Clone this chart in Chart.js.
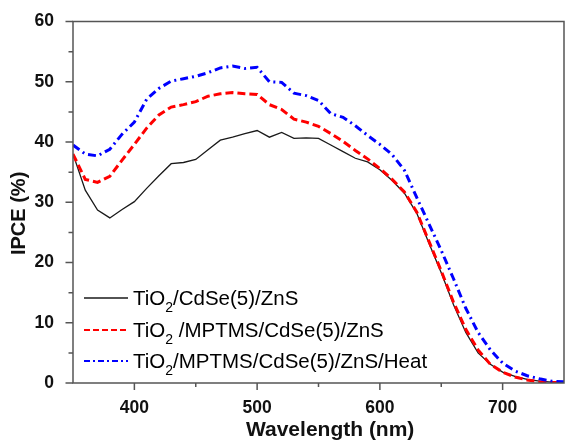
<!DOCTYPE html>
<html>
<head>
<meta charset="utf-8">
<script src="https://cdn.jsdelivr.net/npm/chart.js@4.4.1/dist/chart.umd.min.js"></script>
<style>
  body { margin: 0; background: #fff; }
  canvas { display: block; }
</style>
</head>
<body>
<canvas id="ipceChart" width="565" height="443"></canvas>
<script>
// wavelength grid (nm)
const wavelengths = [350, 360, 370, 380, 390, 400, 410, 420, 430, 440,
                     450, 460, 470, 480, 490, 500, 510, 520, 530, 540,
                     550, 560, 570, 580, 590, 600, 610, 620, 630, 640,
                     650, 660, 670, 680, 690, 700, 710, 720, 730, 740, 750];

// IPCE (%)
const ipceBare = [38.0, 32.0, 28.7, 27.4, 28.8, 30.1, 32.3, 34.4, 36.4, 36.6,
                  37.1, 38.7, 40.3, 40.8, 41.4, 41.9, 40.8, 41.6, 40.6, 40.7,
                  40.6, 39.5, 38.4, 37.3, 36.7, 35.4, 33.6, 31.5, 28.2, 23.2,
                  18.3, 13.0, 8.4, 5.0, 3.1, 1.8, 1.1, 0.6, 0.3, 0.15, 0.1];
const ipceMptms = [38.0, 33.8, 33.3, 34.3, 37.0, 39.6, 42.3, 44.5, 45.8, 46.2,
                   46.7, 47.6, 48.0, 48.2, 48.0, 47.9, 46.2, 45.4, 43.8, 43.3,
                   42.6, 41.4, 40.1, 38.6, 37.2, 35.6, 33.8, 31.7, 28.4, 23.5,
                   18.6, 13.4, 8.9, 5.5, 3.1, 1.8, 1.0, 0.5, 0.2, 0.1, 0.1];
const ipceHeat = [39.5, 38.0, 37.7, 38.8, 41.3, 43.3, 47.1, 48.9, 50.1, 50.5,
                  50.9, 51.5, 52.3, 52.6, 52.2, 52.4, 50.0, 49.9, 48.1, 47.7,
                  46.9, 44.7, 44.1, 42.7, 41.1, 39.6, 37.9, 35.3, 30.8, 26.4,
                  22.0, 17.3, 12.4, 8.4, 5.5, 3.3, 2.0, 1.2, 0.7, 0.3, 0.2];

const seriesLabels = ['TiO2/CdSe(5)/ZnS', 'TiO2 /MPTMS/CdSe(5)/ZnS', 'TiO2/MPTMS/CdSe(5)/ZnS/Heat'];

const xMajorTicks = [400, 500, 600, 700];
const xMinorTicks = [450, 550, 650];
const yMajorTicks = [0, 10, 20, 30, 40, 50, 60];
const yMinorTicks = [5, 15, 25, 35, 45, 55];

const FONT = "'Liberation Sans', Arial, sans-serif";
Chart.defaults.font.family = FONT;
Chart.defaults.color = '#111';

const styles = [
  { color: '#1a1a1a', width: 1.3, dash: [], legendWidth: 1.3, legendDash: [] },
  { color: '#ff0000', width: 3, dash: [8, 4], legendWidth: 2, legendDash: [6, 3] },
  { color: '#0000ff', width: 3, dash: [8, 4, 2, 4], legendWidth: 2, legendDash: [6, 3, 2, 3] }
];

function toPoints(values) {
  return wavelengths.map((w, i) => ({ x: w, y: values[i] }));
}

// frame + outward tick marks (major long, minor short)
const axisFrame = {
  id: 'axisFrame',
  afterDatasetsDraw(chart) {
    const { ctx, chartArea: a, scales: { x, y } } = chart;
    ctx.save();
    ctx.strokeStyle = '#555';
    ctx.lineWidth = 1.5;
    ctx.strokeRect(a.left, a.top, a.right - a.left, a.bottom - a.top);
    ctx.beginPath();
    xMajorTicks.forEach(v => { const p = x.getPixelForValue(v); ctx.moveTo(p, a.bottom); ctx.lineTo(p, a.bottom + 7); });
    xMinorTicks.forEach(v => { const p = x.getPixelForValue(v); ctx.moveTo(p, a.bottom); ctx.lineTo(p, a.bottom + 4); });
    yMajorTicks.forEach(v => { const p = y.getPixelForValue(v); ctx.moveTo(a.left, p); ctx.lineTo(a.left - 7.5, p); });
    yMinorTicks.forEach(v => { const p = y.getPixelForValue(v); ctx.moveTo(a.left, p); ctx.lineTo(a.left - 4.5, p); });
    ctx.stroke();
    ctx.restore();
  }
};

// legend with subscript 2 in TiO2
const subLegend = {
  id: 'subLegend',
  afterDraw(chart) {
    const { ctx, chartArea: a } = chart;
    const rowsY = [298, 330, 361];
    ctx.save();
    seriesLabels.forEach((label, i) => {
      const s = styles[i];
      const yy = rowsY[i];
      ctx.strokeStyle = s.color;
      ctx.lineWidth = s.legendWidth;
      ctx.setLineDash(s.legendDash);
      ctx.beginPath();
      ctx.moveTo(a.left + 11, yy);
      ctx.lineTo(a.left + 55, yy);
      ctx.stroke();
      ctx.setLineDash([]);

      const k = label.indexOf('2');
      const head = label.slice(0, k), rest = label.slice(k + 1);
      let tx = a.left + 60;
      ctx.fillStyle = '#000';
      ctx.textBaseline = 'alphabetic';
      ctx.font = '20.5px ' + FONT;
      ctx.fillText(head, tx, yy + 7);
      tx += ctx.measureText(head).width;
      ctx.font = '14px ' + FONT;
      ctx.fillText('2', tx, yy + 14);
      tx += ctx.measureText('2').width;
      ctx.font = '20.5px ' + FONT;
      ctx.fillText(rest, tx, yy + 7);
    });
    ctx.restore();
  }
};

new Chart(document.getElementById('ipceChart').getContext('2d'), {
  type: 'line',
  data: {
    datasets: [
      { label: seriesLabels[0], data: toPoints(ipceBare), order: 3 },
      { label: seriesLabels[1], data: toPoints(ipceMptms), order: 2 },
      { label: seriesLabels[2], data: toPoints(ipceHeat), order: 1 }
    ].map((d, i) => Object.assign(d, {
      borderColor: styles[i].color,
      borderWidth: styles[i].width,
      borderDash: styles[i].dash,
      pointRadius: 0,
      fill: false,
      tension: 0
    }))
  },
  options: {
    responsive: false,
    animation: false,
    layout: { padding: { top: 21, right: 1, left: 0, bottom: 0 } },
    plugins: { legend: { display: false }, tooltip: { enabled: false } },
    scales: {
      x: {
        type: 'linear',
        min: 350,
        max: 750,
        afterBuildTicks: scale => { scale.ticks = xMajorTicks.map(v => ({ value: v })); },
        afterFit: scale => { scale.height = 60; },
        grid: { display: false, drawTicks: false },
        border: { display: false },
        ticks: { padding: 15, font: { size: 17.5, weight: 'bold' }, color: '#111', maxRotation: 0 },
        // leading spaces nudge the centred title right, as in the original
        title: { display: true, text: '    Wavelength (nm)', font: { size: 21, weight: 'bold' }, color: '#111', padding: { top: 1, bottom: 0 } }
      },
      y: {
        min: 0,
        max: 60,
        afterBuildTicks: scale => { scale.ticks = yMajorTicks.map(v => ({ value: v })); },
        afterFit: scale => { scale.width = 73; },
        // tickLength only offsets the labels; the marks themselves come from axisFrame
        grid: { display: false, drawTicks: true, tickLength: 8 },
        border: { display: false },
        ticks: { padding: 11, font: { size: 17.5, weight: 'bold' }, color: '#111' },
        // trailing spaces push the rotated title a little lower
        title: { display: true, text: 'IPCE (%)    ', font: { size: 20, weight: 'bold' }, color: '#111', padding: { top: 7, bottom: 0 } }
      }
    }
  },
  plugins: [axisFrame, subLegend]
});
</script>
</body>
</html>
